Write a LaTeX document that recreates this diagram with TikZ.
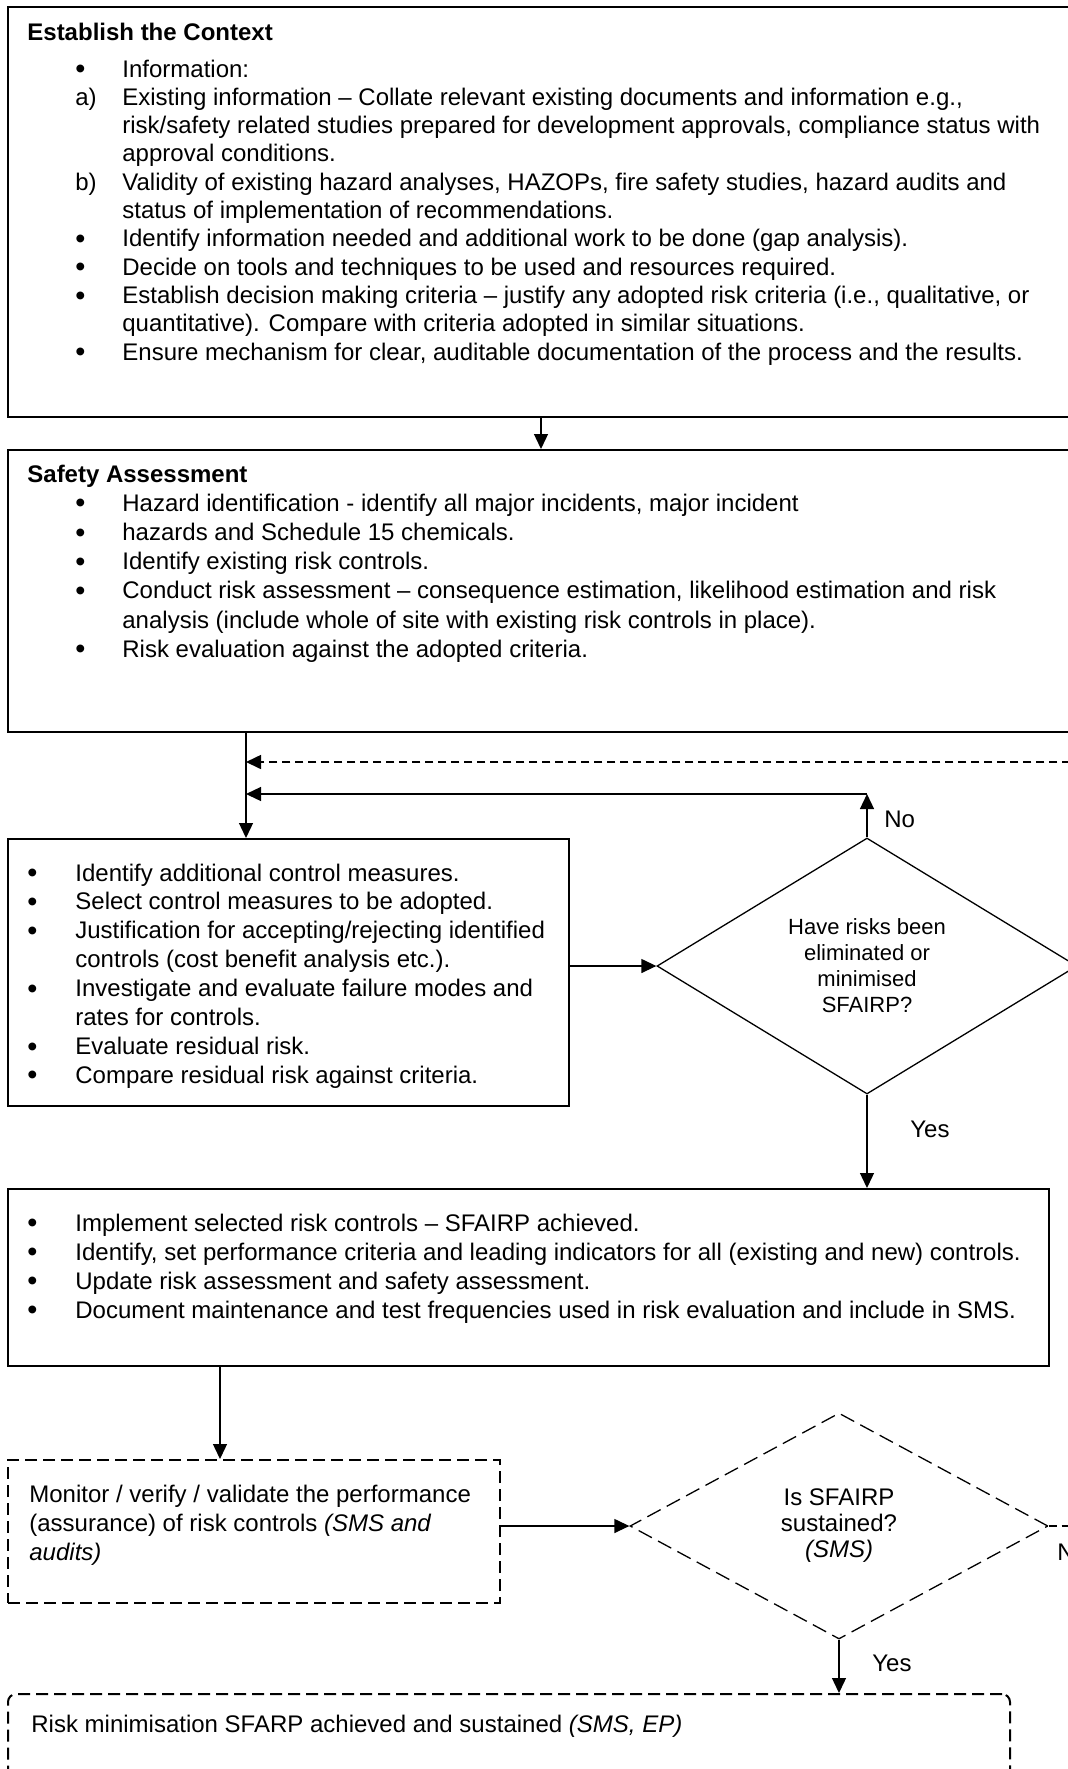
\documentclass[tikz,border=0pt]{standalone}
\usepackage{fontspec}
\setmainfont{Liberation Sans}
\usetikzlibrary{arrows.meta,shapes.geometric}
\newcommand{\bigbul}{\raisebox{-0.8pt}{\scalebox{1.2}{\textbullet}}}
\newcommand{\tbul}{\hspace*{24pt}\bigbul}
\newcommand{\tlet}[1]{\hspace*{24pt}#1}
\begin{document}
\begin{tikzpicture}[x=0.5pt,y=-0.5pt,
  box/.style={draw, line width=0.85pt, rectangle, inner sep=0pt, anchor=north west},
  dbox/.style={draw, line width=1pt, dash pattern=on 6pt off 3pt, rectangle, inner sep=0pt, anchor=north west},
  dia/.style={draw, line width=0.65pt, diamond, inner sep=0pt, align=center},
  txt/.style={inner sep=0pt, anchor=base west},
  lbl/.style={inner sep=0pt, anchor=base west, font=\fontsize{12}{14}\selectfont},
  arr/.style={line width=0.65pt, -{Triangle[length=7.5pt,width=7pt]}},
  darr/.style={line width=0.8pt, dash pattern=on 4pt off 2.5pt, -{Triangle[length=7.5pt,width=7pt]}},
]
\useasboundingbox (0,0) rectangle (1067,1769);

% ---------- boxes ----------
\node[box, minimum width=541.5pt, minimum height=205pt] (ctx) at (7,6) {};
\node[box, minimum width=541.5pt, minimum height=141pt] (sa) at (7,449) {};
\node[box, minimum width=280.5pt, minimum height=133.5pt] (ctl) at (7,838) {};
\node[box, minimum width=520.5pt, minimum height=88.5pt] (impl) at (7,1188) {};
\node[dbox, minimum width=246pt, minimum height=71.5pt] (mon) at (7,1459) {};
\node[dbox, rounded corners=4pt, minimum width=501pt, minimum height=60pt] (fin) at (7,1693) {};

% ---------- diamonds ----------
\node[dia, shape aspect=1.64, minimum width=210pt, minimum height=128pt,
      font=\fontsize{11}{13}\selectfont] (d1) at (867,966)
  {Have risks been\\eliminated or\\minimised\\SFAIRP?};
\node[dia, dash pattern=on 7.5pt off 3.5pt, shape aspect=1.85, minimum width=209pt, minimum height=113pt,
      font=\fontsize{12}{13}\selectfont] (d2) at (839,1526)
  {Is SFAIRP\\sustained?\\\textit{(SMS)}};

% ---------- texts ----------
\node[txt, font=\fontsize{12}{14.15}\selectfont] (ctxt) at (27,40) {%
\begin{tabular}[t]{@{}p{47.5pt}@{}l@{}}
\multicolumn{2}{@{}l@{}}{\textbf{Establish the Context}}\\[4.35pt]
\tbul & Information:\\
\tlet{a)} & Existing information -- Collate relevant existing documents and information e.g.,\\
 & risk/safety related studies prepared for development approvals, compliance status with\\
 & approval conditions.\\
\tlet{b)} & Validity of existing hazard analyses, HAZOPs, fire safety studies, hazard audits and\\
 & status of implementation of recommendations.\\
\tbul & Identify information needed and additional work to be done (gap analysis).\\
\tbul & Decide on tools and techniques to be used and resources required.\\
\tbul & Establish decision making criteria -- justify any adopted risk criteria (i.e., qualitative, or\\
 & quantitative). Compare with criteria adopted in similar situations.\\
\tbul & Ensure mechanism for clear, auditable documentation of the process and the results.
\end{tabular}};

\node[txt, font=\fontsize{12}{14.6}\selectfont] (satxt) at (27,482) {%
\begin{tabular}[t]{@{}p{47.5pt}@{}l@{}}
\multicolumn{2}{@{}l@{}}{\textbf{Safety Assessment}}\\
\tbul & Hazard identification - identify all major incidents, major incident\\
\tbul & hazards and Schedule 15 chemicals.\\
\tbul & Identify existing risk controls.\\
\tbul & Conduct risk assessment -- consequence estimation, likelihood estimation and risk\\
 & analysis (include whole of site with existing risk controls in place).\\
\tbul & Risk evaluation against the adopted criteria.
\end{tabular}};

\node[txt, font=\fontsize{12}{14.45}\selectfont] (ctltxt) at (27,881) {%
\begin{tabular}[t]{@{}p{24pt}@{}l@{}}
\bigbul & Identify additional control measures.\\
\bigbul & Select control measures to be adopted.\\
\bigbul & Justification for accepting/rejecting identified\\
 & controls (cost benefit analysis etc.).\\
\bigbul & Investigate and evaluate failure modes and\\
 & rates for controls.\\
\bigbul & Evaluate residual risk.\\
\bigbul & Compare residual risk against criteria.
\end{tabular}};

\node[txt, font=\fontsize{12}{14.5}\selectfont] (impltxt) at (27,1231) {%
\begin{tabular}[t]{@{}p{24pt}@{}l@{}}
\bigbul & Implement selected risk controls -- SFAIRP achieved.\\
\bigbul & Identify, set performance criteria and leading indicators for all (existing and new) controls.\\
\bigbul & Update risk assessment and safety assessment.\\
\bigbul & Document maintenance and test frequencies used in risk evaluation and include in SMS.
\end{tabular}};

\node[txt, font=\fontsize{12}{14.5}\selectfont] (montxt) at (29,1502) {%
\begin{tabular}[t]{@{}l@{}}
Monitor / verify / validate the performance\\
(assurance) of risk controls \textit{(SMS and}\\
\textit{audits)}
\end{tabular}};

\node[txt, font=\fontsize{12}{14.5}\selectfont] (fintxt) at (31,1732)
  {Risk minimisation SFARP achieved and sustained \textit{(SMS, EP)}};

% ---------- labels ----------
\node[lbl] (no1) at (884,827) {No};
\node[lbl] (yes1) at (910,1137) {Yes};
\node[lbl] (yes2) at (872,1671) {Yes};
\node[lbl] (no2) at (1057,1560) {No};

% ---------- helper coordinates ----------
\coordinate (xa) at (541,0);
\coordinate (xj) at (246,0);
\coordinate (xb) at (220,0);
\coordinate (cNo) at (867,794);
\coordinate (jNo) at (246,794);
\coordinate (jD) at (246,762);
\coordinate (rD) at (1100,1526);

% ---------- connectors ----------
\draw[arr] (ctx.south -| xa) -- (sa.north -| xa);
\draw[arr] (sa.south -| xj) -- (ctl.north -| xj);
\draw[darr] (d2.east) -- (rD) |- (jD);
\draw[arr] (d1.north) -- (cNo);
\draw[arr] (cNo) -- (jNo);
\draw[arr] (ctl.east |- d1.west) -- (d1.west);
\draw[arr] (d1.south) -- (d1.south |- impl.north);
\draw[arr] (impl.south -| xb) -- (mon.north -| xb);
\draw[arr] (mon.east |- d2.west) -- (d2.west);
\draw[arr] (d2.south) -- (d2.south |- fin.north);
\end{tikzpicture}
\end{document}
